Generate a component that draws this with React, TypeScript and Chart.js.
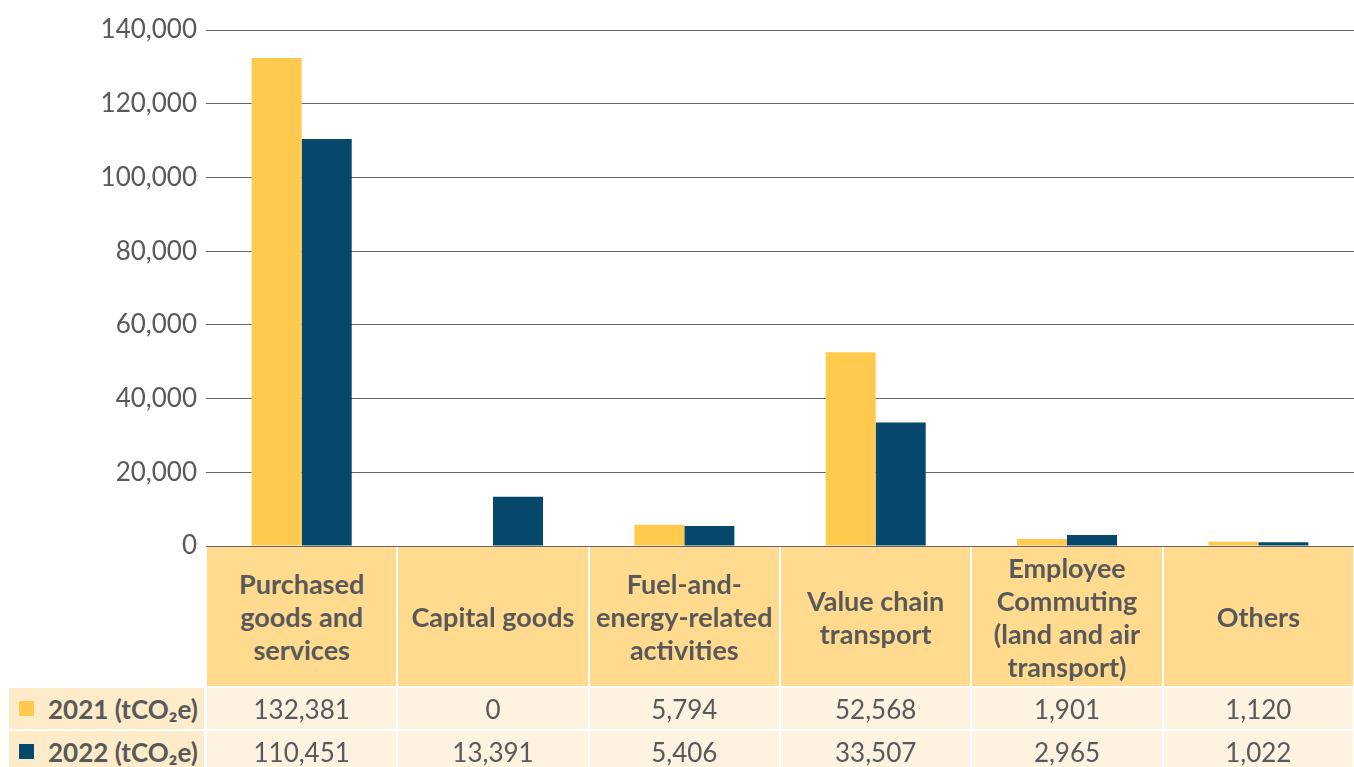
import React, { useEffect, useRef, useState } from "react";
import { Chart, registerables } from "chart.js";

Chart.register(...registerables);

// ---- data ----
const categories: string[][] = [
  ["Purchased", "goods and", "services"],
  ["Capital goods"],
  ["Fuel-and-", "energy-related", "activities"],
  ["Value chain", "transport"],
  ["Employee", "Commuting", "(land and air", "transport)"],
  ["Others"],
];
const values2021 = [132381, 0, 5794, 52568, 1901, 1120];
const values2022 = [110451, 13391, 5406, 33507, 2965, 1022];
const seriesNames = ["2021 (tCO₂e)", "2022 (tCO₂e)"];
const seriesColors = ["#FFCA4D", "#05486C"];
const yMax = 140000;
const yStep = 20000;

const FONT = "Lato, 'Open Sans', sans-serif";
const TEXT = "#595959";
const HEADER_BG = "#FFDA8F";
const LABEL_BG = "#FDEBC9";
const CELL_BG = "#FEF2E1";

type Geo = { centers: number[]; w: number; bottom: number; left: number };

const fmt = (v: number) => v.toLocaleString("en-US");

export default function App() {
  const canvasRef = useRef<HTMLCanvasElement | null>(null);
  const [geo, setGeo] = useState<Geo | null>(null);

  useEffect(() => {
    const canvas = canvasRef.current;
    if (!canvas) return;
    const chart = new Chart(canvas, {
      type: "bar",
      data: {
        labels: categories.map((c) => c.join(" ")),
        datasets: [
          {
            label: seriesNames[0],
            data: values2021,
            backgroundColor: seriesColors[0],
            borderWidth: 0,
          },
          {
            label: seriesNames[1],
            data: values2022,
            backgroundColor: seriesColors[1],
            borderWidth: 0,
          },
        ],
      },
      options: {
        responsive: false,
        animation: false,
        devicePixelRatio: 1,
        layout: { padding: { top: 30, right: 0, bottom: 221, left: 0 } },
        plugins: {
          legend: { display: false },
          tooltip: { enabled: false },
        },
        datasets: {
          bar: { categoryPercentage: 0.523, barPercentage: 1 },
        },
        scales: {
          x: { display: false },
          y: {
            min: 0,
            max: yMax,
            afterFit: (scale: any) => {
              scale.width = 206;
            },
            border: { display: false },
            grid: { color: "#666666", lineWidth: 1, drawTicks: false },
            ticks: {
              stepSize: yStep,
              padding: 9,
              color: TEXT,
              font: { family: FONT, size: 26 },
              callback: (v: any) => fmt(Number(v)),
            },
          },
        },
      },
    });
    const xs: any = chart.scales.x;
    const area = chart.chartArea;
    setGeo({
      centers: categories.map((_, i) => xs.getPixelForValue(i)),
      w: area.width / categories.length,
      bottom: area.bottom,
      left: area.left,
    });
    return () => chart.destroy();
  }, []);

  const rows = [values2021, values2022];

  return (
    <div
      style={{
        position: "absolute",
        left: 0,
        top: 0,
        width: 1354,
        height: 767,
        overflow: "hidden",
        background: "#ffffff",
        fontFamily: FONT,
      }}
    >
      <canvas ref={canvasRef} width={1354} height={767} style={{ position: "absolute", left: 0, top: 0 }} />
      {geo &&
        categories.map((c, i) => (
          <div
            key={"h" + i}
            style={{
              position: "absolute",
              left: geo.centers[i] - geo.w / 2 + 1,
              width: geo.w - 2,
              top: geo.bottom + 1,
              height: 139,
              background: HEADER_BG,
              display: "flex",
              flexDirection: "column",
              alignItems: "center",
              justifyContent: "center",
              textAlign: "center",
              fontWeight: 700,
              fontSize: 27,
              lineHeight: "33px",
              color: TEXT,
              whiteSpace: "nowrap",
            }}
          >
            {c.map((line, j) => (
              <div key={j}>{line}</div>
            ))}
          </div>
        ))}
      {geo &&
        rows.map((vals, r) => {
          const top = geo.bottom + 142 + r * 43;
          return (
            <React.Fragment key={"r" + r}>
              <div
                style={{
                  position: "absolute",
                  left: 9,
                  width: geo.left - 11,
                  top,
                  height: 41,
                  background: LABEL_BG,
                  display: "flex",
                  alignItems: "center",
                  color: TEXT,
                  fontWeight: 700,
                  fontSize: 26,
                  whiteSpace: "nowrap",
                }}
              >
                <span
                  style={{
                    display: "inline-block",
                    width: 15,
                    height: 15,
                    marginLeft: 10,
                    marginRight: 14,
                    background: seriesColors[r],
                  }}
                />
                <span>{seriesNames[r]}</span>
              </div>
              {vals.map((v, i) => (
                <div
                  key={i}
                  style={{
                    position: "absolute",
                    left: geo.centers[i] - geo.w / 2 + 1,
                    width: geo.w - 2,
                    top,
                    height: 41,
                    background: CELL_BG,
                    display: "flex",
                    alignItems: "center",
                    justifyContent: "center",
                    color: TEXT,
                    fontSize: 26,
                  }}
                >
                  {fmt(v)}
                </div>
              ))}
            </React.Fragment>
          );
        })}
    </div>
  );
}
